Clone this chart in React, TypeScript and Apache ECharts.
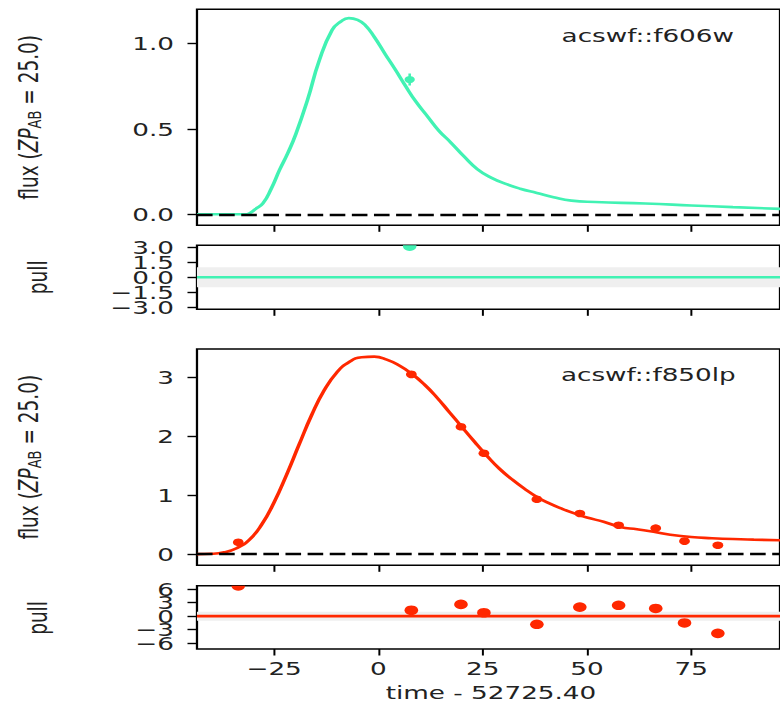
import React, { useEffect, useRef } from 'react';
import * as echarts from 'echarts';

// ---------- data ----------
const X_MIN = -43.5;
const X_MAX = 96.3;
const xTicks = [-25, 0, 25, 50, 75];
const fluxTicks606 = [0, 0.5, 1.0];
const pullTicks606 = [-3, -1.5, 0, 1.5, 3];
const fluxTicks850 = [0, 1, 2, 3];
const pullTicks850 = [-6, -3, 0, 3, 6];

const band606 = 'acswf::f606w';
const band850 = 'acswf::f850lp';

const obs606Time = [7.5];
const obs606Flux = [0.79];
const obs606Err = [0.035];
const obs606Pull = [3.1];

const obs850Time = [-33.6, 7.9, 19.8, 25.3, 38.0, 48.3, 57.6, 66.5, 73.4, 81.4];
const obs850Flux = [0.2, 3.05, 2.16, 1.71, 0.93, 0.69, 0.49, 0.44, 0.22, 0.15];
const obs850Err = [0.02, 0.04, 0.04, 0.035, 0.03, 0.03, 0.025, 0.025, 0.025, 0.02];
const obs850Pull = [6.7, 1.3, 2.6, 0.75, -1.8, 2.0, 2.4, 1.7, -1.5, -3.8];

const model606Time = [-43.5, -35, -32, -31, -29.5, -27.7, -25.7, -23.7, -21.7, -19.8, -17, -14.2, -11.1, -9, -7.1, -5, -3.2, -1, 1.6, 4, 6.3, 9, 11.9, 14.5, 17.4, 20.5, 23.7, 27, 30.9, 34, 38, 42, 46.3, 52, 64, 75, 85, 96.3];
const model606Flux = [0, 0, 0, 0.005, 0.03, 0.064, 0.15, 0.26, 0.36, 0.47, 0.67, 0.9, 1.08, 1.13, 1.15, 1.14, 1.11, 1.04, 0.94, 0.85, 0.76, 0.66, 0.57, 0.49, 0.42, 0.34, 0.265, 0.215, 0.175, 0.15, 0.125, 0.1, 0.08, 0.072, 0.063, 0.052, 0.042, 0.032];

const model850Time = [-43.5, -40, -37, -34, -31, -28, -25, -22, -19, -16, -13, -10, -7, -4, -1, 2, 5, 8, 11, 14, 17, 20, 23, 26, 29, 32, 35, 38, 41, 44, 47, 50, 54, 58, 62, 66, 70, 75, 80, 85, 90, 96.3];
const model850Flux = [0, 0.005, 0.03, 0.1, 0.24, 0.5, 0.88, 1.35, 1.86, 2.36, 2.78, 3.08, 3.26, 3.34, 3.35, 3.3, 3.2, 3.06, 2.88, 2.66, 2.41, 2.16, 1.91, 1.67, 1.45, 1.27, 1.11, 0.97, 0.86, 0.77, 0.69, 0.62, 0.55, 0.46, 0.42, 0.38, 0.33, 0.29, 0.27, 0.255, 0.245, 0.235];

// ---------- style ----------
const W = 550;
const H = 706;
const SX = 780 / W;
const FONT = '"DejaVu Sans", "Liberation Sans", sans-serif';
const FS = 18.5;
const C606 = '#41f2b3';
const C850 = '#ff2800';
const TXT = '#222222';
const GL = 138.9;
const GW = 414.6;

const fmt1 = (v: number) => (v < 0 ? '\u2212' : '') + Math.abs(v).toFixed(1);
const fmt0 = (v: number) => (v < 0 ? '\u2212' : '') + Math.abs(v).toFixed(0);

const grids = [
  { top: 9.3, height: 216 },
  { top: 245.3, height: 64 },
  { top: 349, height: 216.3 },
  { top: 585.7, height: 63.3 },
];
const yRanges = [
  [-0.0645, 1.2016],
  [-3.2, 3.18],
  [-0.19, 3.48],
  [-7.26, 6.73],
];
const evenIdx = (a: number[]) => a.filter((_, i) => i % 2 === 0);
const oddIdx = (a: number[]) => a.filter((_, i) => i % 2 === 1);
const yTickSets = [fluxTicks606, evenIdx(pullTicks606), fluxTicks850, evenIdx(pullTicks850)];
const yFmts = [fmt1, fmt1, fmt0, fmt0];
// second label layer for the crowded pull axes (labels overlap, as in the original)
const extraY = [
  { grid: 1, ticks: oddIdx(pullTicks606), fmt: fmt1 },
  { grid: 3, ticks: oddIdx(pullTicks850), fmt: fmt0 },
];

function zip(a: number[], b: number[], c?: number[]) {
  return a.map((v, i) => (c ? [v, b[i], c[i]] : [v, b[i]]));
}

function pointSeries(idx: number, data: number[][], color: string, r: number, withErr: boolean) {
  return {
    type: 'custom',
    xAxisIndex: idx,
    yAxisIndex: idx,
    clip: true,
    z: 4,
    encode: { x: 0, y: 1 },
    data,
    renderItem: (params: any, api: any) => {
      const t = api.value(0);
      const f = api.value(1);
      const c = api.coord([t, f]);
      const children: any[] = [];
      if (withErr) {
        const e = api.value(2);
        const lo = api.coord([t, f - e]);
        const hi = api.coord([t, f + e]);
        children.push({ type: 'line', shape: { x1: c[0], y1: lo[1], x2: c[0], y2: hi[1] }, style: { stroke: color, lineWidth: 1.8 } });
      }
      children.push({ type: 'circle', shape: { cx: c[0], cy: c[1], r }, style: { fill: color } });
      return { type: 'group', children };
    },
  };
}

function modelSeries(idx: number, t: number[], f: number[], color: string) {
  return {
    type: 'line',
    xAxisIndex: idx,
    yAxisIndex: idx,
    data: zip(t, f),
    showSymbol: false,
    smooth: 0.5,
    lineStyle: { color, width: 2.6 },
    z: 2,
    markLine: {
      silent: true,
      symbol: 'none',
      label: { show: false },
      lineStyle: { color: '#000', type: [11, 4.6], width: 2.4 },
      data: [{ yAxis: 0 }],
    },
  };
}

function pullZeroSeries(idx: number, t: number[], color: string) {
  return {
    type: 'line',
    xAxisIndex: idx,
    yAxisIndex: idx,
    data: t.map((v) => [v, 0]),
    showSymbol: false,
    lineStyle: { color, width: 2.6 },
    z: 3,
    markArea: {
      silent: true,
      itemStyle: { color: '#efefef' },
      data: [[{ yAxis: -1 }, { yAxis: 1 }]],
    },
  };
}

function yAxisDef(gridIndex: number, ticks: number[], fmt: (v: number) => string) {
  return {
    type: 'value',
    gridIndex,
    position: 'left',
    min: yRanges[gridIndex][0],
    max: yRanges[gridIndex][1],
    axisLine: { show: false, onZero: false },
    splitLine: { show: false },
    axisTick: { show: true, customValues: ticks, length: 6.7, lineStyle: { color: '#000', width: 1.4 } },
    axisLabel: {
      customValues: ticks,
      formatter: fmt,
      margin: 16.2,
      showMinLabel: true,
      showMaxLabel: true,
      hideOverlap: false,
      fontFamily: FONT,
      fontSize: FS,
      color: TXT,
    },
  };
}

const option: any = {
  animation: false,
  backgroundColor: '#ffffff',
  grid: grids.map((g) => ({
    left: GL,
    width: GW,
    top: g.top,
    height: g.height,
    show: true,
    borderColor: '#000',
    borderWidth: 1.6,
    backgroundColor: 'transparent',
  })),
  xAxis: grids.map((g, i) => ({
    type: 'value',
    gridIndex: i,
    position: 'bottom',
    min: X_MIN,
    max: X_MAX,
    axisLine: { show: false, onZero: false },
    splitLine: { show: false },
    axisTick: { show: true, customValues: xTicks, length: 6.5, lineStyle: { color: '#000', width: 1.4 } },
    axisLabel: {
      show: i === 3,
      customValues: xTicks,
      formatter: fmt0,
      margin: 10,
      showMinLabel: true,
      showMaxLabel: true,
      fontFamily: FONT,
      fontSize: FS,
      color: TXT,
    },
  })),
  yAxis: [
    ...grids.map((g, i) => yAxisDef(i, yTickSets[i], yFmts[i])),
    ...extraY.map((e) => yAxisDef(e.grid, e.ticks, e.fmt)),
  ],
  series: [
    modelSeries(0, model606Time, model606Flux, C606),
    pointSeries(0, zip(obs606Time, obs606Flux, obs606Err), C606, 3.6, true),
    pullZeroSeries(1, model606Time, C606),
    pointSeries(1, zip(obs606Time, obs606Pull), C606, 4.8, false),
    modelSeries(2, model850Time, model850Flux, C850),
    pointSeries(2, zip(obs850Time, obs850Flux, obs850Err), C850, 3.8, true),
    pullZeroSeries(3, model850Time, C850),
    pointSeries(3, zip(obs850Time, obs850Pull), C850, 4.8, false),
  ],
  graphic: [
    {
      type: 'text',
      x: 396,
      y: 35,
      style: { text: band606, font: `${FS}px ${FONT}`, fill: TXT, align: 'left', verticalAlign: 'middle' },
    },
    {
      type: 'text',
      x: 395.5,
      y: 374,
      style: { text: band850, font: `${FS}px ${FONT}`, fill: TXT, align: 'left', verticalAlign: 'middle' },
    },
    {
      type: 'text',
      x: 346.2,
      y: 692,
      style: { text: 'time - 52725.40', font: `${FS}px ${FONT}`, fill: TXT, align: 'center', verticalAlign: 'middle' },
    },
    ...[117.3, 457.2].map((cy) => ({
      type: 'text',
      x: 20,
      y: cy,
      rotation: Math.PI / 2,
      style: {
        text: '{n|flux (}{i|ZP}{s|AB}{n| = 25.0)}',
        align: 'center',
        verticalAlign: 'middle',
        fill: TXT,
        rich: {
          n: { fontSize: FS, fontFamily: FONT, fill: TXT, lineHeight: 22 },
          i: { fontSize: FS, fontFamily: FONT, fontStyle: 'italic', fill: TXT, lineHeight: 22 },
          s: { fontSize: 13, fontFamily: FONT, fill: TXT, verticalAlign: 'bottom', lineHeight: 12 },
        },
      },
    })),
    ...[277.3, 618].map((cy) => ({
      type: 'text',
      x: 26.4,
      y: cy,
      rotation: Math.PI / 2,
      style: { text: 'pull', font: `${FS}px ${FONT}`, fill: TXT, align: 'center', verticalAlign: 'middle' },
    })),
  ],
};

export default function App() {
  const ref = useRef<HTMLDivElement>(null);
  useEffect(() => {
    const chart = echarts.init(ref.current!, null, { renderer: 'svg', width: W, height: H });
    chart.setOption(option);
    return () => chart.dispose();
  }, []);
  return (
    <div style={{ position: 'fixed', left: 0, top: 0, width: 780, height: 706, overflow: 'hidden', background: '#fff' }}>
      <div ref={ref} style={{ width: W, height: H, transform: `scaleX(${SX})`, transformOrigin: '0 0' }} />
    </div>
  );
}
